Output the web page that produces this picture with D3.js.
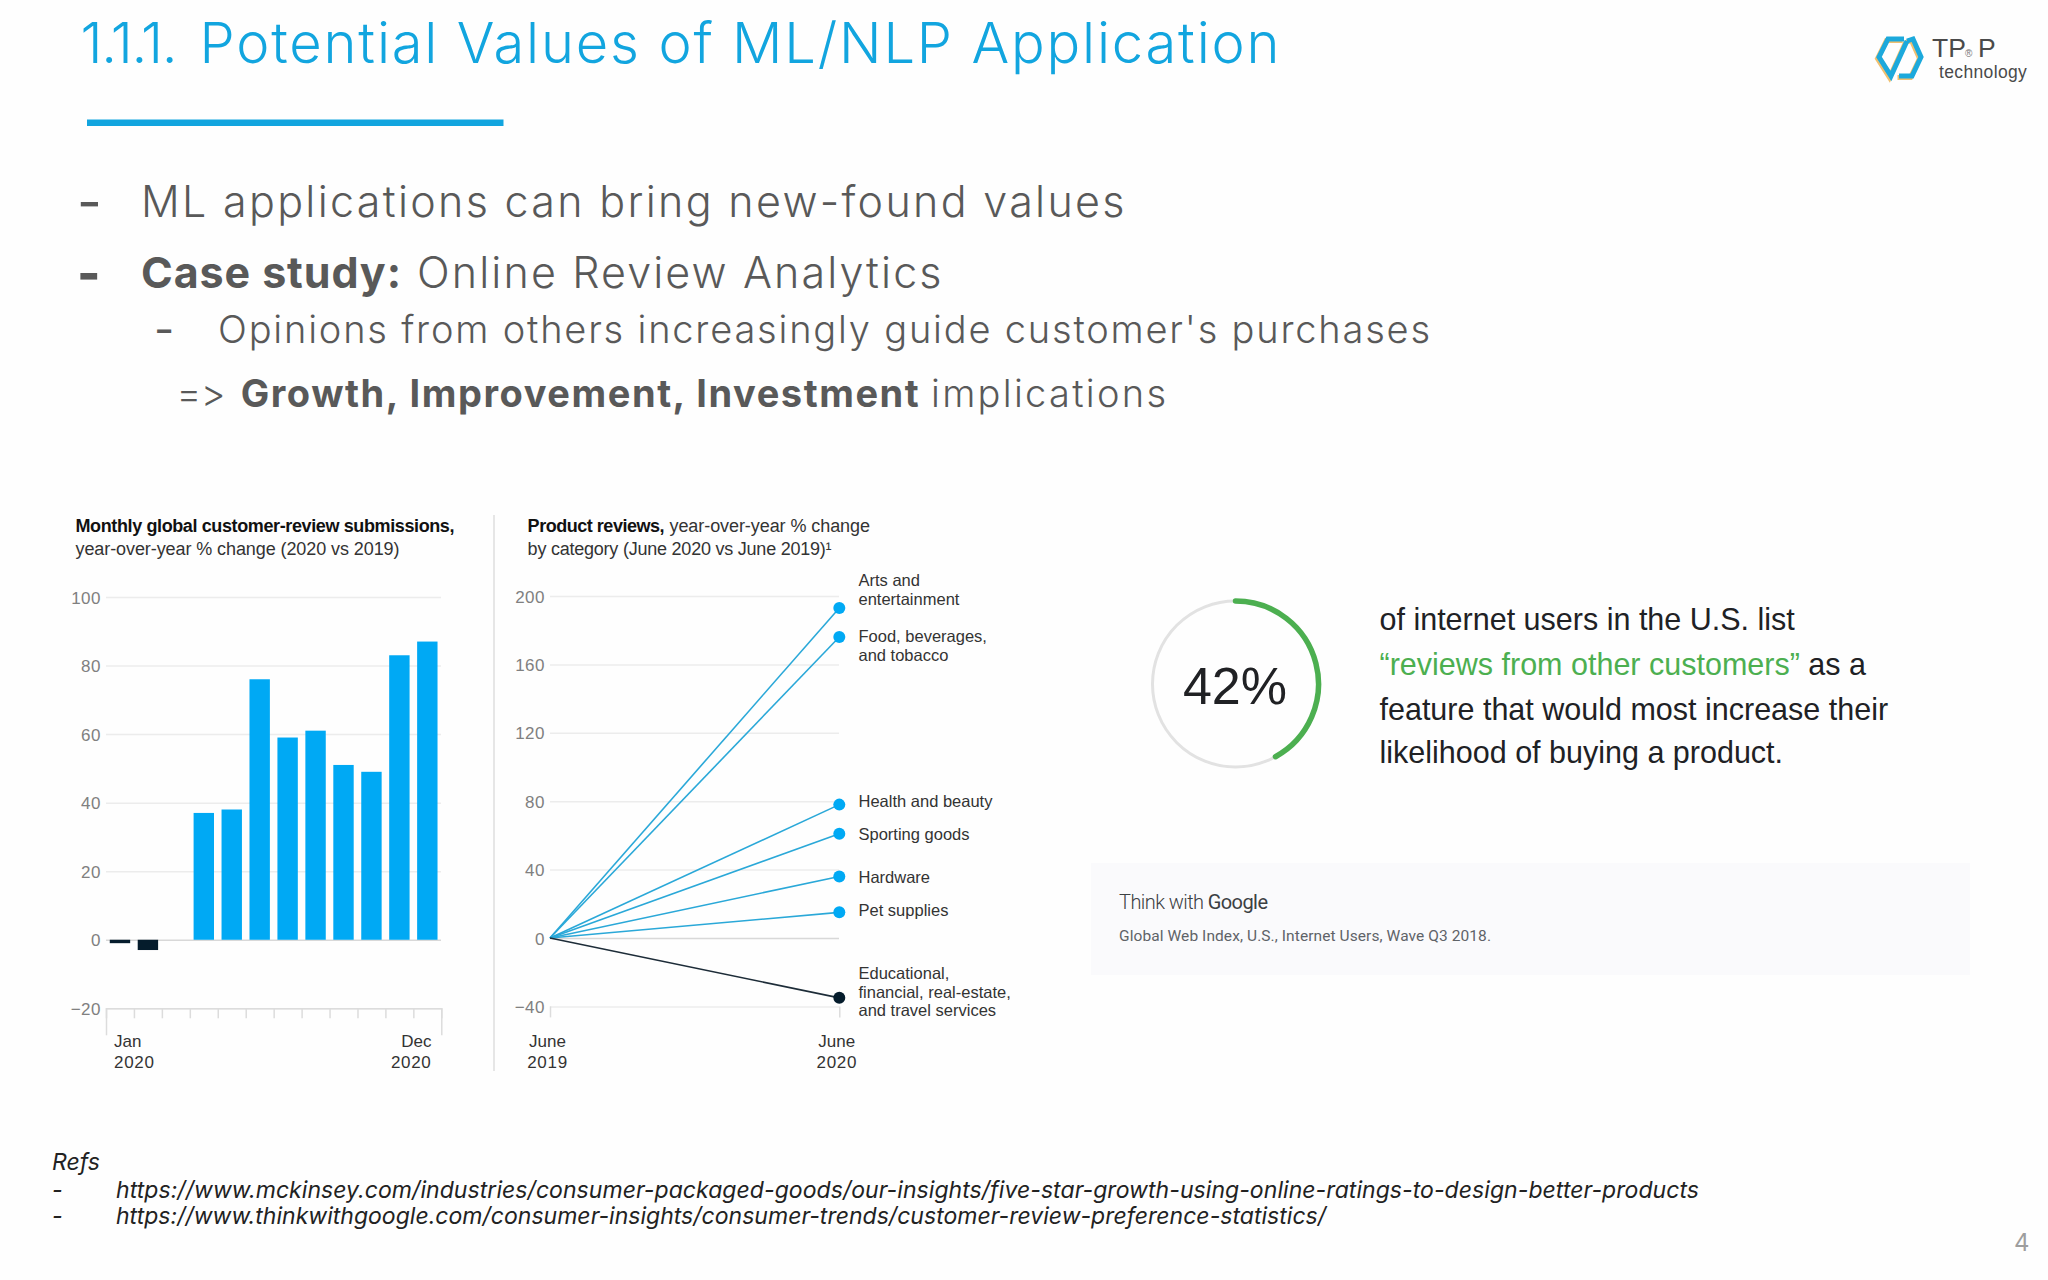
<!DOCTYPE html>
<html>
<head>
<meta charset="utf-8">
<script src="https://cdn.jsdelivr.net/npm/d3@7"></script>
<style>
  html, body { margin: 0; padding: 0; background: #fefefe; }
  svg { display: block; }
</style>
</head>
<body>
<svg id="slide" width="2048" height="1280"></svg>
<script>
// chart values
const months = ["Jan", "Feb", "Mar", "Apr", "May", "Jun", "Jul", "Aug", "Sep", "Oct", "Nov", "Dec"];
const monthlyChange = [-1, -3, 0, 37, 38, 76, 59, 61, 51, 49, 83, 87];
const monthlyTicks = [-20, 0, 20, 40, 60, 80, 100];

const categories = [
  "Arts and entertainment",
  "Food, beverages, and tobacco",
  "Health and beauty",
  "Sporting goods",
  "Hardware",
  "Pet supplies",
  "Educational, financial, real-estate, and travel services",
];
const categoryChange = [193, 176, 78, 61, 36, 15, -35];
const categoryLines = [
  ["Arts and", "entertainment"],
  ["Food, beverages,", "and tobacco"],
  ["Health and beauty"],
  ["Sporting goods"],
  ["Hardware"],
  ["Pet supplies"],
  ["Educational,", "financial, real-estate,", "and travel services"],
];
const categoryTicks = [-40, 0, 40, 80, 120, 160, 200];
const periods = ["June 2019", "June 2020"];

const surveyShare = 0.42;

const BLUE = "#00a9f4";
const NAVY = "#051c2c";
const LINE_BLUE = "#2aa8d8";
const TITLE_BLUE = "#12a5df";
const SLIDE_GREY = "#595959";
const GREEN = "#4caf50";
const CHART_FONT = "'Liberation Sans', Arial, sans-serif";
const SLIDE_FONT = "Inter, sans-serif";
const minus = (d) => String(d).replace("-", "\u2212");

const svg = d3.select("#slide");

const put = (x, y, str, o = {}) => {
  const t = svg
    .append("text")
    .attr("x", x)
    .attr("y", y)
    .attr("font-family", o.font || SLIDE_FONT)
    .attr("font-size", o.size || 16)
    .attr("font-weight", o.weight || 400)
    .attr("font-style", o.style || "normal")
    .attr("fill", o.fill || "#222")
    .attr("text-anchor", o.anchor || "start")
    .style("font-variant-ligatures", "none")
    .style("font-feature-settings", "'calt' 0")
    .text(str);
  if (o.spacing) t.attr("letter-spacing", o.spacing);
  if (o.width) t.attr("textLength", o.width).attr("lengthAdjust", "spacing");
  return t;
};

// ---- slide header
const heading = { size: 56, weight: 300, fill: TITLE_BLUE };
put(80.5, 62.5, "1.1.1.", { ...heading, width: 97 });
put(199.5, 62.5, "Potential Values of ML/NLP Application", { ...heading, width: 1080 });
svg.append("rect").attr("x", 87).attr("y", 119.5).attr("width", 416.5).attr("height", 6.5).attr("fill", TITLE_BLUE);

const body = { fill: SLIDE_GREY, weight: 300 };
put(77, 220.5, "-", { ...body, size: 54, weight: 400 });
put(141, 217, "ML applications can bring new-found values", { ...body, size: 43, width: 983.5 });
put(77, 290.5, "-", { ...body, size: 50, weight: 800 });
put(141, 287.5, "Case study:", { ...body, size: 43, weight: 700, width: 260 });
put(417, 287.5, "Online Review Analytics", { ...body, size: 43, width: 524.5 });
put(154, 344.5, "-", { ...body, size: 44, weight: 400 });
put(218, 342.5, "Opinions from others increasingly guide customer's purchases", { ...body, size: 38, width: 1212 });
put(176.5, 406.5, "=>", { ...body, size: 38, width: 49 });
put(240.7, 406.5, "Growth, Improvement, Investment", { ...body, size: 38, weight: 700, width: 678 });
put(931, 406.5, "implications", { ...body, size: 38, width: 235 });

// ---- logo
const logo = svg.append("g").attr("fill", "none").attr("stroke-width", 5).attr("stroke-linejoin", "miter");
const logoPaths = [
  [[1904, 39], [1888, 39], [1879, 57], [1891, 76], [1907, 41]],
  [[1907, 41], [1913, 39], [1921, 57], [1912, 76], [1899, 76]],
];
logo.selectAll(".shade").data(logoPaths).join("path").attr("d", d3.line())
  .attr("stroke", "#f0c070").attr("transform", "translate(-1.5,1.5)");
logo.selectAll(".main").data(logoPaths).join("path").attr("d", d3.line())
  .attr("stroke", "#1ca9dc");
const logoText = svg.append("text").attr("font-family", CHART_FONT).attr("fill", "#4a4a4a");
logoText.append("tspan").attr("x", 1932).attr("y", 57).attr("font-size", 26.5).text("TP");
logoText.append("tspan").attr("x", 1965).attr("y", 57).attr("font-size", 10).attr("fill", "#777").text("\u00AE");
logoText.append("tspan").attr("x", 1978).attr("y", 57).attr("font-size", 26.5).text("P");
logoText.append("tspan").attr("x", 1939).attr("y", 78).attr("font-size", 17.5).attr("letter-spacing", 0.35).text("technology");

// ---- left chart: monthly submissions
put(75.5, 532, "Monthly global customer-review submissions,", { font: CHART_FONT, size: 18, weight: 700, fill: "#111", width: 379 });
put(75.5, 555, "year-over-year % change (2020 vs 2019)", { font: CHART_FONT, size: 18, fill: "#333", width: 324 });

const barY = d3.scaleLinear().domain([-20, 100]).range([1008.3, 597]);
const barX = d3.scaleBand().domain(months).range([106, 441.3]).paddingInner(0.27).paddingOuter(0.135);

const styleTicks = (g) => {
  g.select(".domain").remove();
  g.selectAll("text").attr("font-family", CHART_FONT).attr("font-size", 17).attr("fill", "#808080")
    .attr("letter-spacing", 0.5).attr("dy", "0.36em");
  g.selectAll("line").attr("stroke", "#ececec").attr("stroke-width", 1.5);
};

svg.append("g")
  .attr("transform", "translate(106,0)")
  .call(d3.axisLeft(barY).tickValues(monthlyTicks).tickFormat(minus).tickSize(-335).tickPadding(5))
  .call(styleTicks)
  .call((g) => g.selectAll(".tick").filter((d) => d === 0).select("line").attr("stroke", "#d8d8d8"));

const monthEdge = d3.scaleLinear().domain([0, months.length]).range([106, 441.3]);
svg.append("g")
  .attr("transform", `translate(0,${barY(-20)})`)
  .call(d3.axisBottom(monthEdge).tickValues(d3.range(0, months.length + 1)).tickFormat("").tickSize(10))
  .call((g) => g.select(".domain").attr("stroke", "#dcdcdc").attr("stroke-width", 1.5))
  .call((g) => g.selectAll("line").attr("stroke", "#dcdcdc").attr("stroke-width", 1.5)
    .attr("y2", (d) => (d === 0 || d === months.length ? 27 : 10)));

svg.append("g")
  .selectAll("rect")
  .data(monthlyChange)
  .join("rect")
  .attr("x", (d, i) => barX(months[i]))
  .attr("y", (d) => Math.min(barY(d), barY(0)))
  .attr("width", barX.bandwidth())
  .attr("height", (d) => Math.abs(barY(d) - barY(0)))
  .attr("fill", (d) => (d < 0 ? NAVY : BLUE));

const axisMonth = { font: CHART_FONT, size: 17, fill: "#333" };
const axisYear = { ...axisMonth, spacing: 0.7 };
put(114, 1047, "Jan", axisMonth);
put(114, 1068, "2020", axisYear);
put(431.5, 1047, "Dec", { ...axisMonth, anchor: "end" });
put(431.5, 1068, "2020", { ...axisYear, anchor: "end" });

svg.append("line").attr("x1", 494).attr("x2", 494).attr("y1", 515).attr("y2", 1071).attr("stroke", "#dedede").attr("stroke-width", 1.5);

// ---- middle chart: reviews by category
put(527.6, 532, "Product reviews,", { font: CHART_FONT, size: 18, weight: 700, fill: "#111", width: 137 });
put(669.5, 532, "year-over-year % change", { font: CHART_FONT, size: 18, fill: "#333", width: 200.5 });
put(527.6, 555, "by category (June 2020 vs June 2019)\u00B9", { font: CHART_FONT, size: 18, fill: "#333", width: 304 });

const lineY = d3.scaleLinear().domain([-40, 200]).range([1006.4, 596]);
const lineX = d3.scalePoint().domain(periods).range([550, 839.3]);

svg.append("g")
  .attr("transform", "translate(550,0)")
  .call(d3.axisLeft(lineY).tickValues(categoryTicks).tickFormat(minus).tickSize(-289).tickPadding(5))
  .call(styleTicks)
  .call((g) => g.selectAll(".tick").filter((d) => d === 0).select("line").attr("stroke", "#d8d8d8"));

svg.append("g")
  .attr("transform", `translate(0,${lineY(-40)})`)
  .call(d3.axisBottom(lineX).tickFormat("").tickSize(11))
  .call((g) => g.select(".domain").remove())
  .call((g) => g.selectAll("line").attr("stroke", "#dcdcdc").attr("stroke-width", 1.5));

const segment = d3.line();
svg.append("g")
  .selectAll("path")
  .data(categoryChange)
  .join("path")
  .attr("d", (d) => segment([[lineX(periods[0]), lineY(0)], [lineX(periods[1]), lineY(d)]]))
  .attr("fill", "none")
  .attr("stroke", (d) => (d < 0 ? "#1d2c38" : LINE_BLUE))
  .attr("stroke-width", 1.6);

svg.append("g")
  .selectAll("circle")
  .data(categoryChange)
  .join("circle")
  .attr("cx", lineX(periods[1]))
  .attr("cy", (d) => lineY(d))
  .attr("r", 6)
  .attr("fill", (d) => (d < 0 ? NAVY : BLUE));

// first baseline of each wrapped label, they are spread apart by hand in the original
const labelTop = [586, 642, 807, 840, 883, 916, 979];
svg.append("g")
  .selectAll("text")
  .data(categoryLines)
  .join("text")
  .attr("font-family", CHART_FONT)
  .attr("font-size", 16.5)
  .attr("fill", "#333")
  .attr("y", (d, i) => labelTop[i])
  .selectAll("tspan")
  .data((d) => d)
  .join("tspan")
  .attr("x", 858.5)
  .attr("dy", (d, i) => (i === 0 ? 0 : 18.7))
  .text((d) => d);

periods.forEach((p) => {
  const [m, y] = p.split(" ");
  put(lineX(p) - 2.5, 1047, m, { ...axisMonth, anchor: "middle" });
  put(lineX(p) - 2.5, 1068, y, { ...axisYear, anchor: "middle" });
});

// ---- right panel: 42% ring
const ring = svg.append("g").attr("transform", "translate(1235.5,684)");
ring.append("circle").attr("r", 83).attr("fill", "none").attr("stroke", "#e2e2e2").attr("stroke-width", 3);
const ringArc = d3.path();
ringArc.arc(0, 0, 83, -Math.PI / 2, -Math.PI / 2 + surveyShare * 2 * Math.PI);
ring.append("path")
  .attr("d", ringArc.toString())
  .attr("fill", "none")
  .attr("stroke", GREEN)
  .attr("stroke-width", 5.5)
  .attr("stroke-linecap", "round");
put(1235, 704, `${Math.round(surveyShare * 100)}%`, { font: CHART_FONT, size: 52, fill: "#202124", anchor: "middle" });

const sentence = { font: CHART_FONT, size: 30.5, fill: "#202124" };
put(1379.5, 630, "of internet users in the U.S. list", sentence);
const quoted = svg.append("text")
  .attr("x", 1379.5).attr("y", 675)
  .attr("font-family", CHART_FONT).attr("font-size", 30.5).attr("fill", "#202124");
quoted.append("tspan").attr("fill", GREEN).text("\u201Creviews from other customers\u201D");
quoted.append("tspan").text(" as a");
put(1379.5, 719.5, "feature that would most increase their", sentence);
put(1379.5, 763, "likelihood of buying a product.", sentence);

svg.append("rect").attr("x", 1091).attr("y", 863).attr("width", 879).attr("height", 112).attr("fill", "#fafafc");
const think = svg.append("text").attr("x", 1119).attr("y", 909)
  .attr("font-family", "Roboto, sans-serif").attr("font-size", 20).attr("fill", "#3c4043")
  .attr("textLength", 149).attr("lengthAdjust", "spacing");
think.append("tspan").attr("font-weight", 300).text("Think with ");
think.append("tspan").attr("font-weight", 400).text("Google");
put(1119, 941, "Global Web Index, U.S., Internet Users, Wave Q3 2018.", { font: "Roboto, sans-serif", size: 15.5, fill: "#5f6368", width: 372 });

// ---- references
const refs = { size: 23, style: "italic", fill: "#222", weight: 400 };
put(52, 1170, "Refs", refs);
put(52, 1198, "-", refs);
put(52, 1224, "-", refs);
put(116, 1198, "https://www.mckinsey.com/industries/consumer-packaged-goods/our-insights/five-star-growth-using-online-ratings-to-design-better-products", { ...refs, width: 1583 });
put(116, 1224, "https://www.thinkwithgoogle.com/consumer-insights/consumer-trends/customer-review-preference-statistics/", { ...refs, width: 1210 });
put(2014, 1251, "4", { font: SLIDE_FONT, size: 24, fill: "#9e9e9e" });
</script>
</body>
</html>
